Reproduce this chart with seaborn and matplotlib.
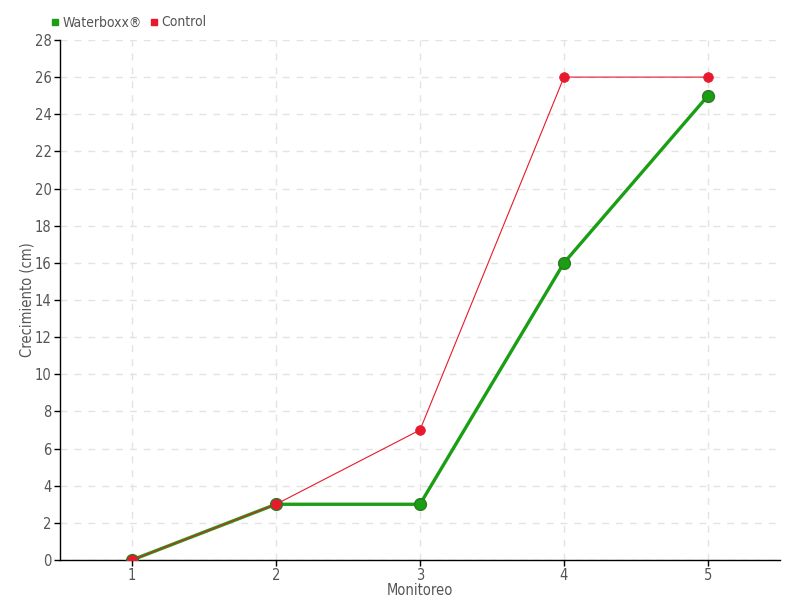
import matplotlib
matplotlib.use("Agg")
import matplotlib.pyplot as plt
from matplotlib.lines import Line2D
import pandas as pd
import seaborn as sns

monitoreo = [1, 2, 3, 4, 5]
waterboxx = [0, 3, 3, 16, 25]
control = [0, 3, 7, 26, 26]
y_ticks = list(range(0, 29, 2))

GREEN = "#1a9e14"
RED = "#e8192c"
TEXT = "#555555"

sns.set_theme(style="white")
plt.rcParams["font.family"] = ["DejaVu Sans"]
plt.rcParams["font.stretch"] = "condensed"

fig = plt.figure(figsize=(8, 6), dpi=100)
ax = fig.add_axes([0.075, 0.0667, 0.9, 0.8667])

df_w = pd.DataFrame({"Monitoreo": monitoreo, "Crecimiento": waterboxx})
df_c = pd.DataFrame({"Monitoreo": monitoreo, "Crecimiento": control})

sns.lineplot(data=df_w, x="Monitoreo", y="Crecimiento", ax=ax, color=GREEN,
             linewidth=2.4, marker="o", markersize=8.5, markeredgecolor="#2a7a22",
             markeredgewidth=1, zorder=3)
sns.lineplot(data=df_c, x="Monitoreo", y="Crecimiento", ax=ax, color=RED,
             linewidth=0.8, marker="o", markersize=7, markeredgecolor=RED,
             markeredgewidth=0.5, zorder=4)

ax.set_xlim(0.5, 5.5)
ax.set_ylim(0, 28)
ax.set_xticks(monitoreo)
ax.set_yticks(y_ticks)
ax.grid(True, color="#e3e3e3", linestyle=(0, (5, 5)), linewidth=1)
ax.set_axisbelow(True)

for side in ("top", "right"):
    ax.spines[side].set_visible(False)
for side in ("left", "bottom"):
    ax.spines[side].set_color("black")
    ax.spines[side].set_linewidth(1)

ax.tick_params(axis="both", which="both", direction="out", length=4, width=1,
               color="black", labelcolor=TEXT, labelsize=10.5, pad=2)
ax.tick_params(axis="x", bottom=True)
ax.tick_params(axis="y", left=True)

ax.set_xlabel("Monitoreo", color=TEXT, fontsize=10.5, labelpad=0)
ax.set_ylabel("Crecimiento (cm)", color=TEXT, fontsize=10.5)
ax.yaxis.set_label_coords(-0.036, 0.5)

handles = [
    Line2D([], [], marker="s", linestyle="", color=GREEN, markersize=4.5),
    Line2D([], [], marker="s", linestyle="", color=RED, markersize=4.5),
]
fig.legend(handles, ["Waterboxx®", "Control"], loc="upper left",
           bbox_to_anchor=(0.045, 0.995), ncol=2, frameon=False,
           handletextpad=0.0, columnspacing=0.4, handlelength=1,
           fontsize=10, labelcolor=TEXT)

fig.savefig("out.png", dpi=100)
